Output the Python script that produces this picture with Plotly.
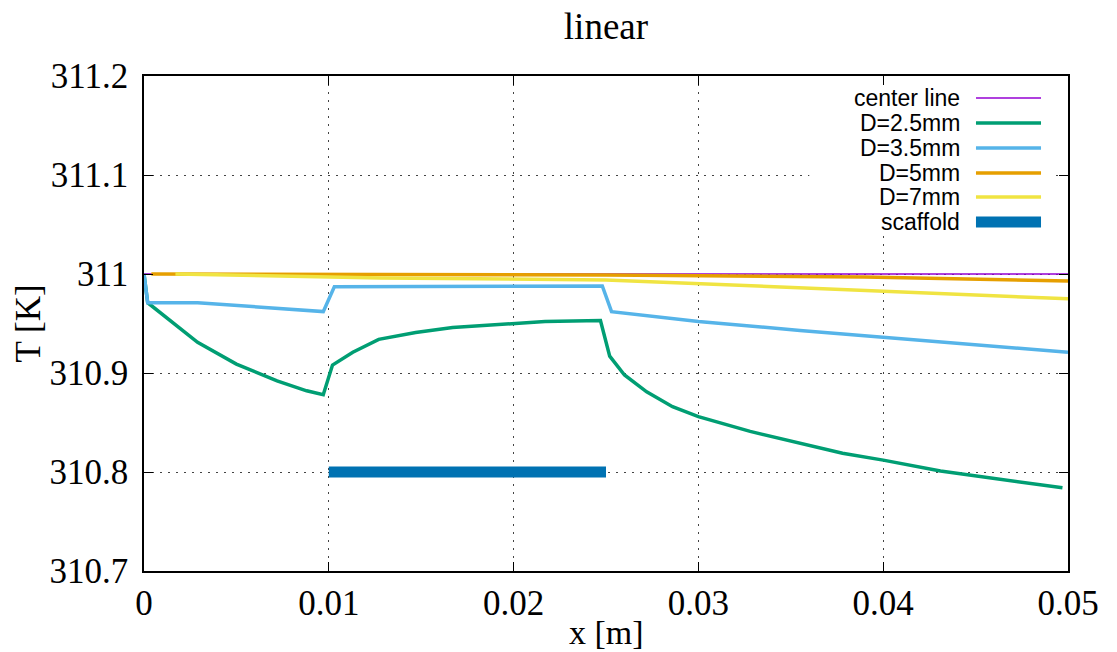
import plotly.graph_objects as go

# ---- data ----
x_center = [0.0, 0.05]
t_center = [311.0, 311.0]

x_d25 = [0.0, 0.0002, 0.0029, 0.005, 0.0072, 0.0088, 0.0097, 0.0102, 0.0113, 0.0127,
         0.0147, 0.0167, 0.0217, 0.0247, 0.0252, 0.026, 0.0272, 0.0286, 0.030, 0.0328,
         0.0378, 0.040, 0.0431, 0.0497]
t_d25 = [311.0, 310.971, 310.931, 310.909, 310.892, 310.882, 310.878, 310.908, 310.921, 310.934,
         310.941, 310.946, 310.952, 310.953, 310.917, 310.898, 310.881, 310.866, 310.856, 310.841,
         310.819, 310.812, 310.801, 310.784]

x_d35 = [0.0, 0.0002, 0.0029, 0.0097, 0.0103, 0.0248, 0.0253, 0.030, 0.0355, 0.05]
t_d35 = [311.0, 310.971, 310.971, 310.962, 310.987, 310.988, 310.962, 310.952, 310.943, 310.921]

x_d5 = [0.0004, 0.025, 0.039, 0.05]
t_d5 = [311.0, 310.999, 310.997, 310.993]

x_d7 = [0.0017, 0.0128, 0.025, 0.04, 0.05]
t_d7 = [311.0, 310.996, 310.994, 310.983, 310.975]

x_scaffold = [0.01, 0.025]
t_scaffold = [310.8, 310.8]

names = ["center line", "D=2.5mm", "D=3.5mm", "D=5mm", "D=7mm", "scaffold"]
colors = ["#9400D3", "#009E73", "#56B4E9", "#E69F00", "#F0E442", "#0072B2"]
widths = [1.5, 3.5, 3.5, 3.5, 3.5, 11]

x_ticks = [0, 0.01, 0.02, 0.03, 0.04, 0.05]
x_ticklabels = ["0", "0.01", "0.02", "0.03", "0.04", "0.05"]
y_ticks = [310.7, 310.8, 310.9, 311.0, 311.1, 311.2]
y_ticklabels = ["310.7", "310.8", "310.9", "311", "311.1", "311.2"]

series = [(x_center, t_center), (x_d25, t_d25), (x_d35, t_d35),
          (x_d5, t_d5), (x_d7, t_d7), (x_scaffold, t_scaffold)]

fig = go.Figure()
for (xs, ys), n, c, w in zip(series, names, colors, widths):
    fig.add_trace(go.Scatter(x=xs, y=ys, mode="lines", name=n,
                             line=dict(color=c, width=w), showlegend=False))

serif = "Liberation Serif, Times New Roman, serif"
sans = "Liberation Sans, Arial, sans-serif"

# white key background, placed between gridlines and traces
shapes = [dict(type="rect", xref="x", yref="y", x0=0.0360, x1=0.0491,
               y0=311.0387, y1=311.199, fillcolor="white", line=dict(width=0), layer="between")]
annotations = []
row_y = [0.9556, 0.9051, 0.8545, 0.8040, 0.7556, 0.7051]
for n, c, w, yy in zip(names, colors, widths, row_y):
    annotations.append(dict(xref="paper", yref="paper", x=0.8853, y=yy, text=n,
                            showarrow=False, xanchor="right", yanchor="middle",
                            font=dict(family=sans, size=23, color="black")))
    shapes.append(dict(type="line", xref="paper", yref="paper", x0=0.9004, x1=0.9708,
                       y0=yy, y1=yy, line=dict(color=c, width=w), layer="above"))

# axis titles as annotations (gnuplot-like placement)
annotations.append(dict(xref="paper", yref="paper", x=0.5, y=0, yshift=-61, text="x [m]",
                        showarrow=False, xanchor="center", yanchor="middle",
                        font=dict(family=serif, size=34, color="black")))
annotations.append(dict(xref="paper", yref="paper", x=0, xshift=-116, y=0.5, text="T [K]",
                        showarrow=False, xanchor="center", yanchor="middle", textangle=-90,
                        font=dict(family=serif, size=35, color="black")))

axis_common = dict(showline=True, linecolor="black", linewidth=1.5, mirror="allticks",
                   ticks="inside", ticklen=9, tickcolor="black", automargin=False,
                   showgrid=True, gridcolor="#444444", gridwidth=1, griddash="2px,6px",
                   zeroline=False, tickfont=dict(family=serif, size=35, color="black"))

fig.update_layout(
    width=1117, height=652,
    margin=dict(l=144, r=49, t=76, b=81, autoexpand=False),
    paper_bgcolor="white", plot_bgcolor="white",
    title=dict(text="linear", x=0.5425, xanchor="center", y=0.96, yanchor="middle",
               font=dict(family=serif, size=37, color="black")),
    xaxis=dict(range=[0, 0.05], tickvals=x_ticks, ticktext=x_ticklabels, **axis_common),
    yaxis=dict(range=[310.7, 311.2], tickvals=y_ticks, ticktext=y_ticklabels,
               ticklabelstandoff=7, **axis_common),
    shapes=shapes, annotations=annotations,
)

fig.write_html("out.html", config={"displayModeBar": False},
               post_script="document.body.style.margin='0';")
